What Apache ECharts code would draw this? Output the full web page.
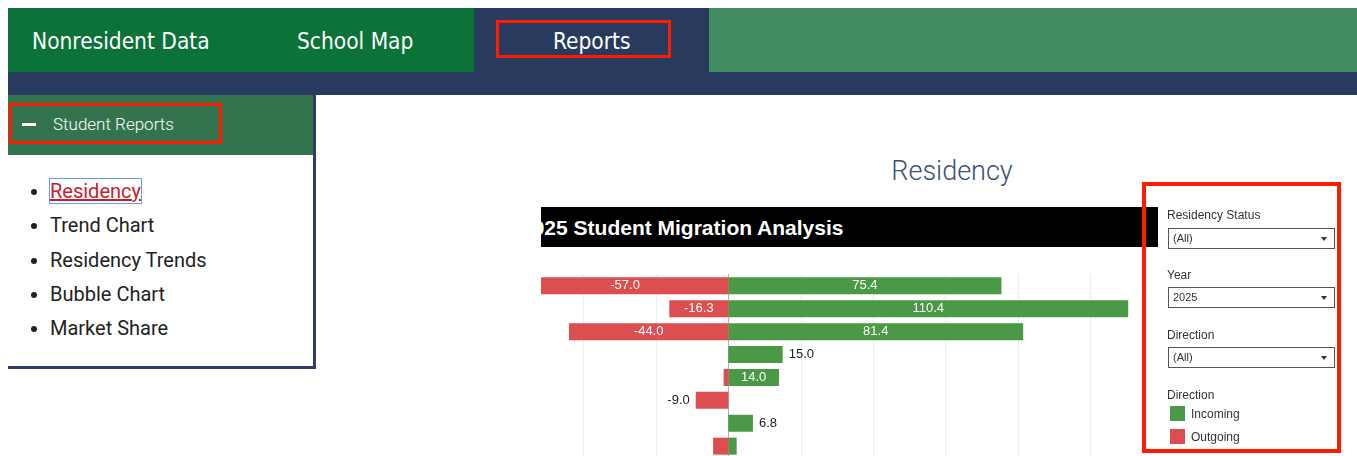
<!DOCTYPE html>
<html lang="en">
<head>
    <meta charset="UTF-8">
    <title>Residency</title>
    <script src="https://cdn.jsdelivr.net/npm/echarts@6/dist/echarts.min.js"></script>
    <style>
        body { margin: 0; width: 1357px; height: 456px; overflow: hidden; background: #fff; font-family: Roboto, "Liberation Sans", sans-serif; position: relative; }
        .abs { position: absolute; }
        .nav { top: 8px; height: 64px; }
        .navtxt { color: #fff; font-family: "Liberation Sans Narrow", "DejaVu Sans Condensed", sans-serif; font-size: 22.5px; top: 27px; line-height: 28px; }
        .redbox { border: 3px solid #ff1a00; box-sizing: border-box; }
        .side li { font-size: 20px; color: #222; height: 34.3px; line-height: 34px; }
        .flt { font-family: "Liberation Sans", Arial, sans-serif; font-size: 12px; color: #333; left: 1167px; }
        .sel { left: 1168px; width: 167px; height: 21px; border: 1px solid #555; box-sizing: border-box; font-family: "Liberation Sans", Arial, sans-serif; font-size: 11px; color: #333; line-height: 19px; padding-left: 4px; }
        .sel:after { content: ""; position: absolute; right: 7px; top: 8px; border-left: 3.5px solid transparent; border-right: 3.5px solid transparent; border-top: 4px solid #333; }
        .sw { left: 1170px; width: 15px; height: 15px; }
    </style>
</head>
<body>
    <!-- top navigation -->
    <div class="abs nav" style="left:8px;width:466px;background:#0b7239;"></div>
    <div class="abs nav" style="left:474px;width:235px;background:#283b5e;"></div>
    <div class="abs nav" style="left:709px;width:648px;background:#438c63;"></div>
    <div class="abs" style="left:8px;top:72px;width:1349px;height:23px;background:#283b5e;"></div>
    <div class="abs navtxt" style="left:32px;">Nonresident Data</div>
    <div class="abs navtxt" style="left:297px;">School Map</div>
    <div class="abs navtxt" style="left:553px;">Reports</div>
    <div class="abs redbox" style="left:496px;top:20px;width:175px;height:38px;"></div>

    <!-- sidebar -->
    <div class="abs" style="left:8px;top:95px;width:305px;height:271px;border-right:3px solid #2e3f66;border-bottom:3px solid #2e3f66;"></div>
    <div class="abs" style="left:8px;top:95px;width:305px;height:60px;background:#33744f;"></div>
    <div class="abs" style="left:22px;top:123px;width:14px;height:3px;background:#fff;"></div>
    <div class="abs" style="left:53px;top:114px;color:#fff;font-size:17px;line-height:20px;font-weight:300;">Student Reports</div>
    <div class="abs redbox" style="left:9px;top:103px;width:213px;height:41px;"></div>
    <ul class="abs side" style="left:0;top:174px;margin:0;padding-left:50px;">
        <li><span style="color:#c8202f;text-decoration:underline;outline:1.5px solid #6b9be0;outline-offset:0px;">Residency</span></li>
        <li>Trend Chart</li>
        <li>Residency Trends</li>
        <li>Bubble Chart</li>
        <li>Market Share</li>
    </ul>

    <!-- heading -->
    <div class="abs" style="left:752px;width:400px;top:155px;text-align:center;font-size:27px;line-height:32px;color:#3b4f72;font-weight:300;">Residency</div>

    <!-- chart -->
    <div class="abs" style="left:541px;top:207px;width:617px;height:249px;overflow:hidden;">
        <div class="abs" style="left:0;top:0;width:617px;height:40px;background:#000;"></div>
        <div class="abs" style="left:-20px;top:9px;color:#fff;font-family:'Liberation Sans Narrow','Liberation Sans',sans-serif;font-weight:bold;font-size:21px;line-height:24px;white-space:nowrap;">2025 Student Migration Analysis</div>
        <div id="main" class="abs" style="left:-30px;top:0;width:652px;height:260px;"></div>
    </div>

    <!-- filters -->
    <div class="abs redbox" style="left:1142px;top:182px;width:199px;height:271px;border-width:4px;"></div>
    <div class="abs flt" style="top:208px;">Residency Status</div>
    <div class="abs sel" style="top:228px;">(All)</div>
    <div class="abs flt" style="top:268px;">Year</div>
    <div class="abs sel" style="top:287px;">2025</div>
    <div class="abs flt" style="top:328px;">Direction</div>
    <div class="abs sel" style="top:347px;">(All)</div>
    <div class="abs flt" style="top:388px;">Direction</div>
    <div class="abs sw" style="top:406px;background:#4b9846;"></div>
    <div class="abs flt" style="left:1191px;top:407px;">Incoming</div>
    <div class="abs sw" style="top:429px;background:#dc4e4f;"></div>
    <div class="abs flt" style="left:1191px;top:430px;">Outgoing</div>

<script>
// 数据
var rows = ['Row 1', 'Row 2', 'Row 3', 'Row 4', 'Row 5', 'Row 6', 'Row 7', 'Row 8'];
var incoming = [75.4, 110.4, 81.4, 15.0, 14.0, null, 6.8, 2.3];
var outgoing = [-57.0, -16.3, -44.0, null, -1.3, -9.0, null, -4.2];
// label position per row: 'in' = white inside, 'out' = outside, '' = none
var inPos = ['in', 'in', 'in', 'out', 'in', '', 'out', ''];
var outPos = ['in', 'in', 'in', '', '', 'out', '', ''];

function makeData(values, pos, side) {
    return values.map(function (v, i) {
        var lab = { show: false };
        if (pos[i] == 'in') {
            lab = { show: true, position: 'inside', color: '#fff' };
        } else if (pos[i] == 'out') {
            lab = { show: true, position: side, color: '#222', distance: 6 };
        }
        return { value: v, label: lab };
    });
}

var myChart = echarts.init(document.getElementById('main'), null, { renderer: 'canvas' });
myChart.setOption({
    animation: false,
    grid: { left: 0, right: 0, top: 67.4, height: 183.2 },
    xAxis: {
        type: 'value',
        min: -60,
        max: 120,
        interval: 20,
        axisLabel: { show: false },
        axisLine: { show: false },
        axisTick: { show: false },
        splitLine: { lineStyle: { color: '#ececec' } }
    },
    yAxis: {
        type: 'category',
        data: rows,
        inverse: true,
        axisLabel: { show: false },
        axisTick: { show: false },
        axisLine: { show: true, onZero: true, lineStyle: { color: '#aaa', type: 'dotted' } }
    },
    series: [
        {
            name: 'Incoming',
            type: 'bar',
            stack: 'total',
            barWidth: 17,
            itemStyle: { color: '#4b9846' },
            label: { fontFamily: 'Liberation Sans', fontSize: 13, formatter: function (p) { return p.value.toFixed(1); } },
            data: makeData(incoming, inPos, 'right')
        },
        {
            name: 'Outgoing',
            type: 'bar',
            stack: 'total',
            barWidth: 17,
            itemStyle: { color: '#dc4e4f' },
            label: { fontFamily: 'Liberation Sans', fontSize: 13, formatter: function (p) { return p.value.toFixed(1); } },
            data: makeData(outgoing, outPos, 'left')
        }
    ]
});
</script>
</body>
</html>
